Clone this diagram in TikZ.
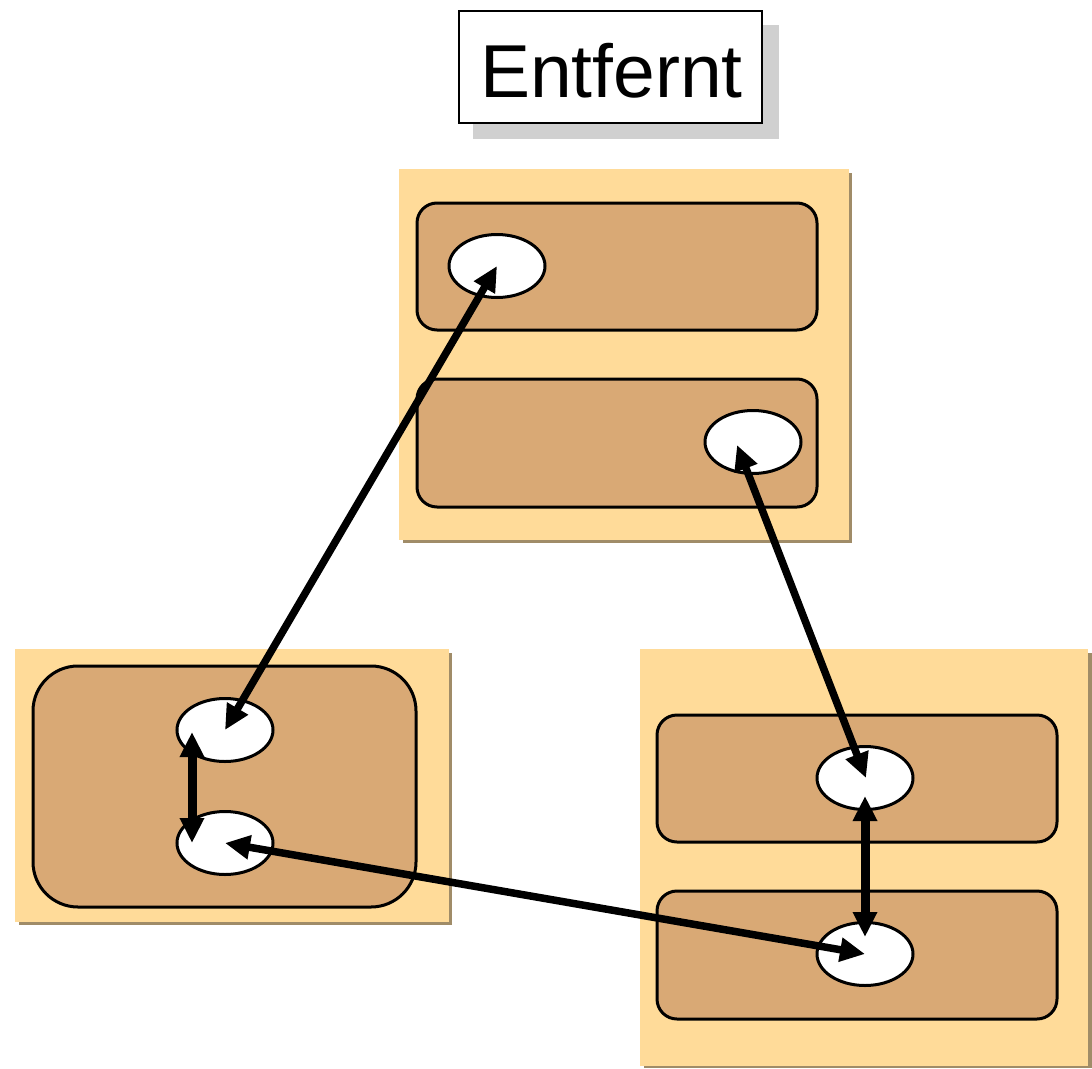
\documentclass[tikz,border=0pt]{standalone}
\usepackage{fontspec}
\setmainfont{Liberation Sans}
\usetikzlibrary{arrows.meta,shapes.geometric}
\definecolor{outerfill}{HTML}{FFDB99}
\definecolor{outershadow}{HTML}{A08C68}
\definecolor{innerfill}{HTML}{D9A975}
\definecolor{titleshadow}{HTML}{D0D0D0}
\tikzset{
  outerbox/.style={fill=outerfill, draw=none},
  outershad/.style={fill=outershadow, draw=none},
  innerbox/.style={fill=innerfill, draw=black, line width=3pt, rounded corners=20pt},
  port/.style={ellipse, fill=white, draw=black, line width=3pt, minimum width=96pt, minimum height=63pt, inner sep=0pt},
  link/.style={line width=7.5pt, {Triangle[length=25pt,width=23pt]}-{Triangle[length=25pt,width=23pt]}},
  vlink/.style={link, line width=9pt},
}
\begin{document}
\begin{tikzpicture}[x=1pt,y=-1pt]
\useasboundingbox (0,0) rectangle (1092,1068);
% title
\fill[titleshadow] (473,25) rectangle (779,139);
\node[draw=black, fill=white, line width=2.5pt, minimum width=303pt, minimum height=112pt, inner sep=0pt] (title) at (610.5,67) {};
\node[anchor=base, font=\fontsize{75}{75}\selectfont, inner sep=0pt] (titletext) at (611.5,97) {Entfernt};
% top group
\fill[outershad] (403,173) rectangle (852,543);
\fill[outerbox] (399,169) rectangle (849,540);
\draw[innerbox] (417,203) rectangle (817,330);
\draw[innerbox] (417,379) rectangle (817,507);
\node[port] (A) at (497,266) {};
\node[port] (B) at (753,442) {};
% left group
\fill[outershad] (19,653) rectangle (452,925);
\fill[outerbox] (15,649) rectangle (449,922);
\draw[innerbox, rounded corners=45pt] (33,666) rectangle (416,907);
\node[port] (C) at (225,730) {};
\node[port] (D) at (225,843) {};
% right group
\fill[outershad] (644,653) rectangle (1092,1068);
\fill[outerbox] (640,649) rectangle (1088,1066);
\draw[innerbox] (657,715) rectangle (1057,842);
\draw[innerbox] (657,891) rectangle (1057,1019);
\node[port] (E) at (865,778) {};
\node[port] (F) at (865,954) {};
% arrow tip points
\coordinate (Ctop) at (192,732);
\coordinate (Dtop) at (192,843);
\coordinate (Bt) at (737,445);
\coordinate (Et) at (866,778);
\coordinate (Eb) at (865,796);
\coordinate (Ft) at (865,937);
% connectors
\draw[link] (A.center) -- (C.center);
\draw[vlink] (Ctop) -- (Dtop);
\draw[link] (D.center) -- (F.center);
\draw[link] (Bt) -- (Et);
\draw[vlink] (Eb) -- (Ft);
\end{tikzpicture}
\end{document}
